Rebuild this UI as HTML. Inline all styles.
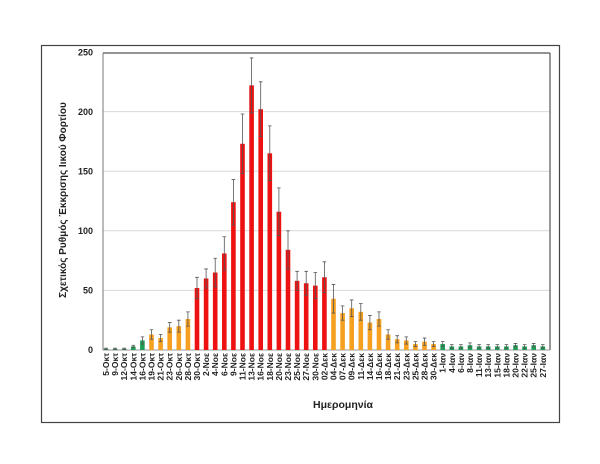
<!DOCTYPE html>
<html><head><meta charset="utf-8"><style>
html,body{margin:0;padding:0;background:#fff;}
svg{display:block;font-family:"Liberation Sans","DejaVu Sans",sans-serif;}
.g rect{fill:#1f9e55}.o rect{fill:#f5a020}.r rect{fill:#ee1111}
path.e{fill:none;stroke:#555;stroke-width:0.8;vector-effect:non-scaling-stroke}
.lb text{font-size:8.5px;font-weight:bold;fill:#222;text-anchor:end}
</style></head><body>
<svg width="600" height="464" viewBox="0 0 600 464" xmlns="http://www.w3.org/2000/svg">
<rect x="41.5" y="45.5" width="518" height="377" fill="#fff" stroke="#444" stroke-width="1.2"/>
<g stroke="#d9d9d9" stroke-width="1">
<line x1="103" x2="550" y1="290.4" y2="290.4"/>
<line x1="103" x2="550" y1="230.8" y2="230.8"/>
<line x1="103" x2="550" y1="171.2" y2="171.2"/>
<line x1="103" x2="550" y1="111.6" y2="111.6"/>
</g>
<line x1="103" x2="550" y1="53" y2="53" stroke="#555" stroke-width="1.2"/>
<line x1="550" x2="550" y1="53" y2="350" stroke="#555" stroke-width="1.2"/>
<line x1="103" x2="103" y1="53" y2="350" stroke="#777" stroke-width="1"/>
<line x1="103" x2="550" y1="350" y2="350" stroke="#999" stroke-width="1"/>
<g font-size="9" font-weight="bold" text-anchor="end" fill="#222">
<text x="93" y="353">0</text><text x="93" y="293.5">50</text><text x="93" y="234">100</text>
<text x="93" y="174.5">150</text><text x="93" y="115">200</text><text x="93" y="55.5">250</text>
</g>
<text transform="translate(66,200) rotate(-90)" text-anchor="middle" font-size="10" font-weight="bold" fill="#222">Σχετικός Ρυθμός Έκκρισης Ιικού Φορτίου</text>
<text x="343" y="408" text-anchor="middle" font-size="10.5" font-weight="bold" fill="#222">Ημερομηνία</text>

<g class="g" transform="translate(106,350) scale(1,-1.192)"><rect x="-2.3" width="4.6" height="1"/><path class="e" d="M-1.8 1.5H1.8M0 1.5V0.5M-1.8 0.5H1.8"/></g>
<g class="g" transform="translate(115.1,350) scale(1,-1.192)"><rect x="-2.3" width="4.6" height="1"/><path class="e" d="M-1.8 1.5H1.8M0 1.5V0.5M-1.8 0.5H1.8"/></g>
<g class="g" transform="translate(124.2,350) scale(1,-1.192)"><rect x="-2.3" width="4.6" height="1"/><path class="e" d="M-1.8 1.5H1.8M0 1.5V0.5M-1.8 0.5H1.8"/></g>
<g class="g" transform="translate(133.3,350) scale(1,-1.192)"><rect x="-2.3" width="4.6" height="3"/><path class="e" d="M-1.8 4H1.8M0 4V2M-1.8 2H1.8"/></g>
<g class="g" transform="translate(142.4,350) scale(1,-1.192)"><rect x="-2.3" width="4.6" height="8"/><path class="e" d="M-1.8 11H1.8M0 11V5M-1.8 5H1.8"/></g>
<g class="o" transform="translate(151.5,350) scale(1,-1.192)"><rect x="-2.3" width="4.6" height="13"/><path class="e" d="M-1.8 17H1.8M0 17V9M-1.8 9H1.8"/></g>
<g class="o" transform="translate(160.6,350) scale(1,-1.192)"><rect x="-2.3" width="4.6" height="10"/><path class="e" d="M-1.8 13H1.8M0 13V7M-1.8 7H1.8"/></g>
<g class="o" transform="translate(169.7,350) scale(1,-1.192)"><rect x="-2.3" width="4.6" height="19"/><path class="e" d="M-1.8 23H1.8M0 23V15M-1.8 15H1.8"/></g>
<g class="o" transform="translate(178.8,350) scale(1,-1.192)"><rect x="-2.3" width="4.6" height="20"/><path class="e" d="M-1.8 25H1.8M0 25V15M-1.8 15H1.8"/></g>
<g class="o" transform="translate(187.9,350) scale(1,-1.192)"><rect x="-2.3" width="4.6" height="26"/><path class="e" d="M-1.8 32H1.8M0 32V20M-1.8 20H1.8"/></g>
<g class="r" transform="translate(197,350) scale(1,-1.192)"><rect x="-2.3" width="4.6" height="52"/><path class="e" d="M-1.8 61H1.8M0 61V43M-1.8 43H1.8"/></g>
<g class="r" transform="translate(206.1,350) scale(1,-1.192)"><rect x="-2.3" width="4.6" height="60"/><path class="e" d="M-1.8 68H1.8M0 68V52M-1.8 52H1.8"/></g>
<g class="r" transform="translate(215.2,350) scale(1,-1.192)"><rect x="-2.3" width="4.6" height="65"/><path class="e" d="M-1.8 77H1.8M0 77V53M-1.8 53H1.8"/></g>
<g class="r" transform="translate(224.3,350) scale(1,-1.192)"><rect x="-2.3" width="4.6" height="81"/><path class="e" d="M-1.8 95H1.8M0 95V67M-1.8 67H1.8"/></g>
<g class="r" transform="translate(233.4,350) scale(1,-1.192)"><rect x="-2.3" width="4.6" height="124"/><path class="e" d="M-1.8 143H1.8M0 143V105M-1.8 105H1.8"/></g>
<g class="r" transform="translate(242.5,350) scale(1,-1.192)"><rect x="-2.3" width="4.6" height="173"/><path class="e" d="M-1.8 198H1.8M0 198V148M-1.8 148H1.8"/></g>
<g class="r" transform="translate(251.6,350) scale(1,-1.192)"><rect x="-2.3" width="4.6" height="222"/><path class="e" d="M-1.8 245H1.8M0 245V199M-1.8 199H1.8"/></g>
<g class="r" transform="translate(260.7,350) scale(1,-1.192)"><rect x="-2.3" width="4.6" height="202"/><path class="e" d="M-1.8 225H1.8M0 225V179M-1.8 179H1.8"/></g>
<g class="r" transform="translate(269.8,350) scale(1,-1.192)"><rect x="-2.3" width="4.6" height="165"/><path class="e" d="M-1.8 188H1.8M0 188V142M-1.8 142H1.8"/></g>
<g class="r" transform="translate(278.9,350) scale(1,-1.192)"><rect x="-2.3" width="4.6" height="116"/><path class="e" d="M-1.8 136H1.8M0 136V96M-1.8 96H1.8"/></g>
<g class="r" transform="translate(288,350) scale(1,-1.192)"><rect x="-2.3" width="4.6" height="84"/><path class="e" d="M-1.8 100H1.8M0 100V68M-1.8 68H1.8"/></g>
<g class="r" transform="translate(297.1,350) scale(1,-1.192)"><rect x="-2.3" width="4.6" height="58"/><path class="e" d="M-1.8 66H1.8M0 66V50M-1.8 50H1.8"/></g>
<g class="r" transform="translate(306.2,350) scale(1,-1.192)"><rect x="-2.3" width="4.6" height="56"/><path class="e" d="M-1.8 66H1.8M0 66V46M-1.8 46H1.8"/></g>
<g class="r" transform="translate(315.3,350) scale(1,-1.192)"><rect x="-2.3" width="4.6" height="54"/><path class="e" d="M-1.8 65H1.8M0 65V43M-1.8 43H1.8"/></g>
<g class="r" transform="translate(324.4,350) scale(1,-1.192)"><rect x="-2.3" width="4.6" height="61"/><path class="e" d="M-1.8 74H1.8M0 74V48M-1.8 48H1.8"/></g>
<g class="o" transform="translate(333.5,350) scale(1,-1.192)"><rect x="-2.3" width="4.6" height="43"/><path class="e" d="M-1.8 55H1.8M0 55V31M-1.8 31H1.8"/></g>
<g class="o" transform="translate(342.6,350) scale(1,-1.192)"><rect x="-2.3" width="4.6" height="31"/><path class="e" d="M-1.8 37H1.8M0 37V25M-1.8 25H1.8"/></g>
<g class="o" transform="translate(351.7,350) scale(1,-1.192)"><rect x="-2.3" width="4.6" height="35"/><path class="e" d="M-1.8 42H1.8M0 42V28M-1.8 28H1.8"/></g>
<g class="o" transform="translate(360.8,350) scale(1,-1.192)"><rect x="-2.3" width="4.6" height="32"/><path class="e" d="M-1.8 39H1.8M0 39V25M-1.8 25H1.8"/></g>
<g class="o" transform="translate(369.9,350) scale(1,-1.192)"><rect x="-2.3" width="4.6" height="23"/><path class="e" d="M-1.8 29H1.8M0 29V17M-1.8 17H1.8"/></g>
<g class="o" transform="translate(379,350) scale(1,-1.192)"><rect x="-2.3" width="4.6" height="26"/><path class="e" d="M-1.8 32H1.8M0 32V20M-1.8 20H1.8"/></g>
<g class="o" transform="translate(388.1,350) scale(1,-1.192)"><rect x="-2.3" width="4.6" height="13"/><path class="e" d="M-1.8 17H1.8M0 17V9M-1.8 9H1.8"/></g>
<g class="o" transform="translate(397.2,350) scale(1,-1.192)"><rect x="-2.3" width="4.6" height="9"/><path class="e" d="M-1.8 12H1.8M0 12V6M-1.8 6H1.8"/></g>
<g class="o" transform="translate(406.3,350) scale(1,-1.192)"><rect x="-2.3" width="4.6" height="8"/><path class="e" d="M-1.8 11H1.8M0 11V5M-1.8 5H1.8"/></g>
<g class="o" transform="translate(415.4,350) scale(1,-1.192)"><rect x="-2.3" width="4.6" height="5"/><path class="e" d="M-1.8 7H1.8M0 7V3M-1.8 3H1.8"/></g>
<g class="o" transform="translate(424.5,350) scale(1,-1.192)"><rect x="-2.3" width="4.6" height="7"/><path class="e" d="M-1.8 10H1.8M0 10V4M-1.8 4H1.8"/></g>
<g class="o" transform="translate(433.6,350) scale(1,-1.192)"><rect x="-2.3" width="4.6" height="5"/><path class="e" d="M-1.8 7H1.8M0 7V3M-1.8 3H1.8"/></g>
<g class="g" transform="translate(442.7,350) scale(1,-1.192)"><rect x="-2.3" width="4.6" height="5"/><path class="e" d="M-1.8 7H1.8M0 7V3M-1.8 3H1.8"/></g>
<g class="g" transform="translate(451.8,350) scale(1,-1.192)"><rect x="-2.3" width="4.6" height="3"/><path class="e" d="M-1.8 4.5H1.8M0 4.5V1.5M-1.8 1.5H1.8"/></g>
<g class="g" transform="translate(460.9,350) scale(1,-1.192)"><rect x="-2.3" width="4.6" height="3"/><path class="e" d="M-1.8 4.5H1.8M0 4.5V1.5M-1.8 1.5H1.8"/></g>
<g class="g" transform="translate(470,350) scale(1,-1.192)"><rect x="-2.3" width="4.6" height="4"/><path class="e" d="M-1.8 6H1.8M0 6V2M-1.8 2H1.8"/></g>
<g class="g" transform="translate(479.1,350) scale(1,-1.192)"><rect x="-2.3" width="4.6" height="3"/><path class="e" d="M-1.8 4.5H1.8M0 4.5V1.5M-1.8 1.5H1.8"/></g>
<g class="g" transform="translate(488.2,350) scale(1,-1.192)"><rect x="-2.3" width="4.6" height="3"/><path class="e" d="M-1.8 4.5H1.8M0 4.5V1.5M-1.8 1.5H1.8"/></g>
<g class="g" transform="translate(497.3,350) scale(1,-1.192)"><rect x="-2.3" width="4.6" height="3"/><path class="e" d="M-1.8 4.5H1.8M0 4.5V1.5M-1.8 1.5H1.8"/></g>
<g class="g" transform="translate(506.4,350) scale(1,-1.192)"><rect x="-2.3" width="4.6" height="3"/><path class="e" d="M-1.8 4.5H1.8M0 4.5V1.5M-1.8 1.5H1.8"/></g>
<g class="g" transform="translate(515.5,350) scale(1,-1.192)"><rect x="-2.3" width="4.6" height="4"/><path class="e" d="M-1.8 5.5H1.8M0 5.5V2.5M-1.8 2.5H1.8"/></g>
<g class="g" transform="translate(524.6,350) scale(1,-1.192)"><rect x="-2.3" width="4.6" height="3"/><path class="e" d="M-1.8 4.5H1.8M0 4.5V1.5M-1.8 1.5H1.8"/></g>
<g class="g" transform="translate(533.7,350) scale(1,-1.192)"><rect x="-2.3" width="4.6" height="4"/><path class="e" d="M-1.8 5.5H1.8M0 5.5V2.5M-1.8 2.5H1.8"/></g>
<g class="g" transform="translate(542.8,350) scale(1,-1.192)"><rect x="-2.3" width="4.6" height="3"/><path class="e" d="M-1.8 4.5H1.8M0 4.5V1.5M-1.8 1.5H1.8"/></g>

<g class="lb">
<text transform="translate(109,353) rotate(-90)">5-Οκτ</text>
<text transform="translate(118.1,353) rotate(-90)">9-Οκτ</text>
<text transform="translate(127.2,353) rotate(-90)">12-Οκτ</text>
<text transform="translate(136.3,353) rotate(-90)">14-Οκτ</text>
<text transform="translate(145.4,353) rotate(-90)">16-Οκτ</text>
<text transform="translate(154.5,353) rotate(-90)">19-Οκτ</text>
<text transform="translate(163.6,353) rotate(-90)">21-Οκτ</text>
<text transform="translate(172.7,353) rotate(-90)">23-Οκτ</text>
<text transform="translate(181.8,353) rotate(-90)">26-Οκτ</text>
<text transform="translate(190.9,353) rotate(-90)">28-Οκτ</text>
<text transform="translate(200,353) rotate(-90)">30-Οκτ</text>
<text transform="translate(209.1,353) rotate(-90)">2-Νοε</text>
<text transform="translate(218.2,353) rotate(-90)">4-Νοε</text>
<text transform="translate(227.3,353) rotate(-90)">6-Νοε</text>
<text transform="translate(236.4,353) rotate(-90)">9-Νοε</text>
<text transform="translate(245.5,353) rotate(-90)">11-Νοε</text>
<text transform="translate(254.6,353) rotate(-90)">13-Νοε</text>
<text transform="translate(263.7,353) rotate(-90)">16-Νοε</text>
<text transform="translate(272.8,353) rotate(-90)">18-Νοε</text>
<text transform="translate(281.9,353) rotate(-90)">20-Νοε</text>
<text transform="translate(291,353) rotate(-90)">23-Νοε</text>
<text transform="translate(300.1,353) rotate(-90)">25-Νοε</text>
<text transform="translate(309.2,353) rotate(-90)">27-Νοε</text>
<text transform="translate(318.3,353) rotate(-90)">30-Νοε</text>
<text transform="translate(327.4,353) rotate(-90)">02-Δεκ</text>
<text transform="translate(336.5,353) rotate(-90)">04-Δεκ</text>
<text transform="translate(345.6,353) rotate(-90)">07-Δεκ</text>
<text transform="translate(354.7,353) rotate(-90)">09-Δεκ</text>
<text transform="translate(363.8,353) rotate(-90)">11-Δεκ</text>
<text transform="translate(372.9,353) rotate(-90)">14-Δεκ</text>
<text transform="translate(382,353) rotate(-90)">16-Δεκ</text>
<text transform="translate(391.1,353) rotate(-90)">18-Δεκ</text>
<text transform="translate(400.2,353) rotate(-90)">21-Δεκ</text>
<text transform="translate(409.3,353) rotate(-90)">23-Δεκ</text>
<text transform="translate(418.4,353) rotate(-90)">25-Δεκ</text>
<text transform="translate(427.5,353) rotate(-90)">28-Δεκ</text>
<text transform="translate(436.6,353) rotate(-90)">30-Δεκ</text>
<text transform="translate(445.7,353) rotate(-90)">1-Ιαν</text>
<text transform="translate(454.8,353) rotate(-90)">4-Ιαν</text>
<text transform="translate(463.9,353) rotate(-90)">6-Ιαν</text>
<text transform="translate(473,353) rotate(-90)">8-Ιαν</text>
<text transform="translate(482.1,353) rotate(-90)">11-Ιαν</text>
<text transform="translate(491.2,353) rotate(-90)">13-Ιαν</text>
<text transform="translate(500.3,353) rotate(-90)">15-Ιαν</text>
<text transform="translate(509.4,353) rotate(-90)">18-Ιαν</text>
<text transform="translate(518.5,353) rotate(-90)">20-Ιαν</text>
<text transform="translate(527.6,353) rotate(-90)">22-Ιαν</text>
<text transform="translate(536.7,353) rotate(-90)">25-Ιαν</text>
<text transform="translate(545.8,353) rotate(-90)">27-Ιαν</text>
</g>
</svg>
</body></html>
